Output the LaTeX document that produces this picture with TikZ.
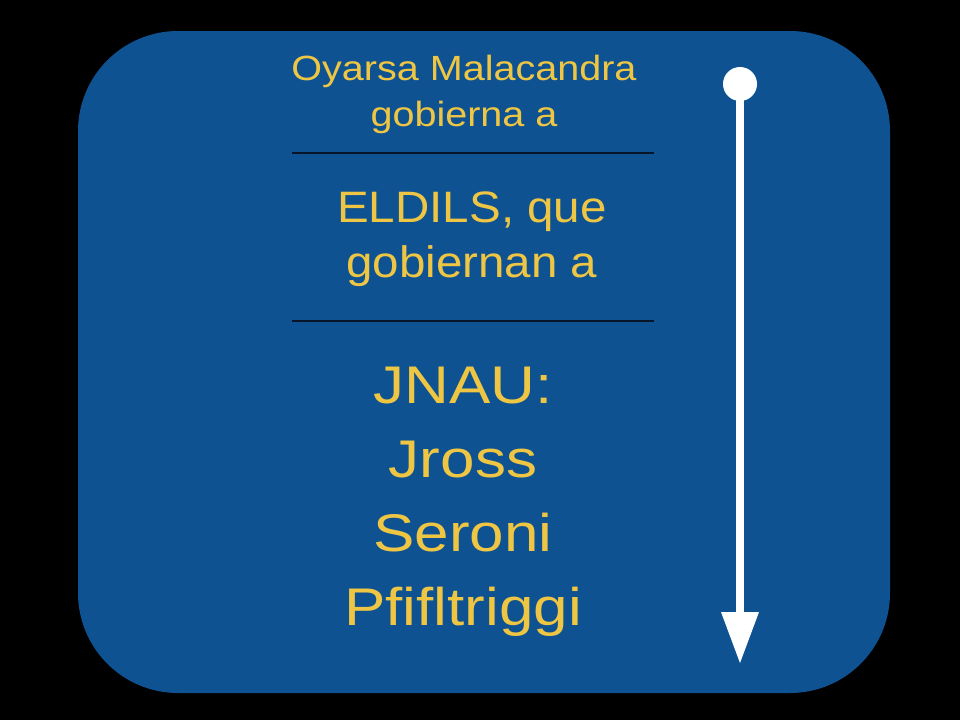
\documentclass[tikz,border=0pt]{standalone}
\usepackage{xcolor}
\usepackage{fontspec}
\setmainfont{Liberation Sans}
\usetikzlibrary{arrows.meta,calc}
\definecolor{panelblue}{RGB}{14,82,146}
\definecolor{gold}{RGB}{238,198,68}
\definecolor{rule}{RGB}{8,20,40}
\tikzset{
	tier/.style={text=gold, align=center, anchor=base, inner sep=0pt},
	divider/.style={draw=rule, line width=2pt}
}

\begin{document}
\begin{tikzpicture}[x=1pt, y=-1pt]
		\fill[black] (0, 0) rectangle (960, 720);
		\useasboundingbox (0, 0) rectangle (960, 720);

		\fill[panelblue, rounded corners=100pt]	(78, 31) rectangle (890, 693);

		% base anchor sits on the last line
		\node[tier, xscale=1.13, font=\fontsize{35}{46}\selectfont] (oyarsa) at (464, 126) {Oyarsa Malacandra\\gobierna a};
		\node[tier, xscale=1.08, font=\fontsize{44}{55}\selectfont] (eldils) at (472, 277) {ELDILS, que\\gobiernan a};
		\node[tier, xscale=1.17, font=\fontsize{53}{74}\selectfont] (jnau) at (463, 625) {JNAU:\\Jross\\Seroni\\Pfifltriggi};

		\draw[divider]	(292, 153) to (654, 153);
		\draw[divider]	(292, 321) to (654, 321);

		\node[circle, fill=white, minimum size=34pt, inner sep=0pt] (top) at (740, 84) {};
		\coordinate (bottom) at (740, 663);
		\draw[white, line width=8pt, -{Triangle[width=38pt, length=51pt, line width=0pt]}] (top.center) to (bottom);
	\end{tikzpicture}
\end{document}
